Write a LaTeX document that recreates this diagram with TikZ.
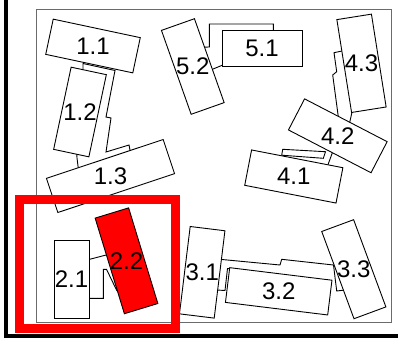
\documentclass[tikz,border=0pt]{standalone}
\usepackage{fontspec}
\setmainfont{Liberation Sans}
\usepackage{xcolor}
\definecolor{framegray}{gray}{0.42}
\tikzset{
  part/.style 2 args = {
    rectangle, draw, fill=white, line width=0.9pt, inner sep=0pt,
    minimum width=#1pt, minimum height=#2pt
  },
  chosen/.style   = {fill=red},
  link/.style     = {line width=0.9pt},
  tag/.style      = {font=\fontsize{24}{28}\selectfont, inner sep=0pt},
  pick/.style     = {draw=red, line width=9pt},
  axisbar/.style  = {line width=4pt}
}

\begin{document}
\begin{tikzpicture}[x=1pt,y=-1pt]
\useasboundingbox (0,0) rectangle (398,338);

% --- outer frame ----------------------------------------------------------
\draw[framegray, line width=0.9pt] (36.7,9.3) rectangle (391.7,322.3);

% --- links between the parts (drawn first, the parts hide their ends) -----
\draw[link] (83,72) -- (83,63.5) -- (115,70.5) -- (106,117) -- (111,118)
      -- (106,152) -- (129,145) -- (131,155);
\draw[link] (76.5,150) -- (77,158) -- (78.5,170);
\draw[link] (87,260) -- (108,254.5);
\draw[link] (87,298.3) -- (103.3,298.3) -- (103.3,269.3) -- (106.5,269.3)
      -- (117,291);
\draw[link] (220,259.3) -- (280,265) -- (281.7,259.3) -- (333.5,265)
      -- (336.7,291) -- (345,290);
\draw[link] (217,290) -- (225,290.5) -- (227.5,268.5) -- (232,269);
\draw[link] (342,51) -- (334,52.7) -- (336.7,71.7) -- (332.7,75)
      -- (338.6,119);
\draw[link] (352.5,110) -- (349.3,124);
\draw[link] (282.7,149.3) -- (325.5,151.7) -- (323.3,158.3)
      -- (281.7,155.2) -- cycle;
\draw[link] (333,151) -- (327.5,166);
\draw[link] (202,47.2) -- (209.3,47) -- (209.3,24) -- (273.3,24)
      -- (273.3,33);
\draw[link] (210,70.3) -- (224,64.5);

% --- the parts ------------------------------------------------------------
\node[part={89}{36},  rotate=-12]  (b11) at (93,46)       {};
\node[part={36}{84},  rotate=-12]  (b12) at (80,112)      {};
\node[part={123}{36}, rotate=18.4] (b13) at (110.5,176)   {};
\node[part={35}{78}]               (b21) at (71.5,279)    {};
\node[part={35}{100}, chosen, rotate=17] (b22) at (126.5,260.8) {};
\node[part={35}{88},  rotate=-7]   (b31) at (202.2,272.3) {};
\node[part={103}{35}, rotate=-7]   (b32) at (278.7,291.3) {};
\node[part={34}{93},  rotate=20.3] (b33) at (353.8,269.2) {};
\node[part={93}{36},  rotate=-11]  (b41) at (293.8,176.5) {};
\node[part={93}{35},  rotate=-27.4] (b42) at (337.8,135.8) {};
\node[part={35}{94},  rotate=9]    (b43) at (361.5,63.3)  {};
\node[part={80}{36}]               (b51) at (262,48)      {};
\node[part={35}{89},  rotate=19.5] (b52) at (192.8,66.5)  {};

% --- labels, always upright -----------------------------------------------
\node[tag] (t11) at (b11.center) {1.1};
\node[tag] (t12) at (b12.center) {1.2};
\node[tag] (t13) at (b13.center) {1.3};
\node[tag] (t21) at (b21.center) {2.1};
\node[tag] (t22) at (b22.center) {2.2};
\node[tag] (t31) at (b31.center) {3.1};
\node[tag] (t32) at (b32.center) {3.2};
\node[tag] (t33) at (b33.center) {3.3};
\node[tag] (t41) at (b41.center) {4.1};
\node[tag] (t42) at (b42.center) {4.2};
\node[tag] (t43) at (b43.center) {4.3};
\node[tag] (t51) at (b51.center) {5.1};
\node[tag] (t52) at (b52.center) {5.2};

% --- highlight and axes ---------------------------------------------------
\draw[pick] (19.5,199.5) rectangle (175,328.5);
\draw[axisbar] (6,0) -- (6,336) -- (398,336);

\end{tikzpicture}
\end{document}
